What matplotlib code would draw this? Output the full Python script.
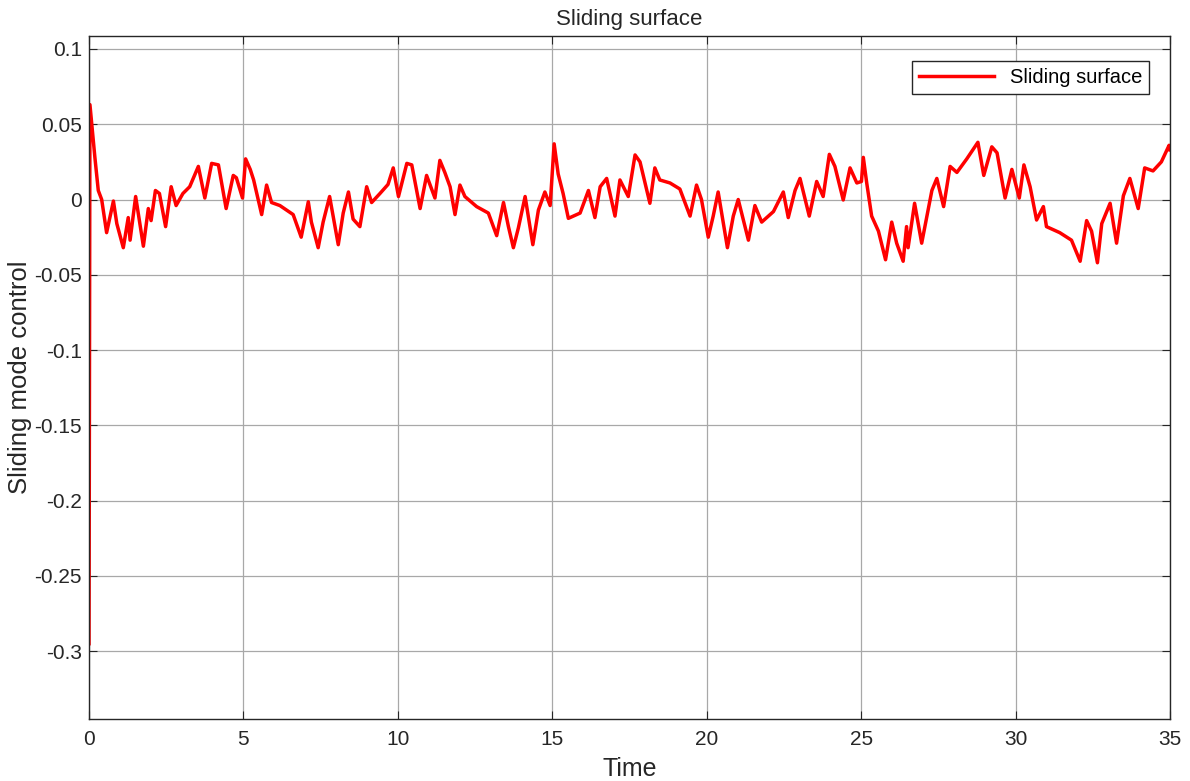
import numpy as np
import matplotlib.pyplot as plt

# sliding surface s(t), read at the turning points of the trace
t = [0.0, 0.03, 0.19, 0.30, 0.41, 0.57, 0.79, 0.90, 1.11, 1.27, 1.33, 1.51,
     1.76, 1.92, 2.01, 2.15, 2.28, 2.48, 2.66, 2.82, 3.04, 3.26, 3.54, 3.75,
     3.97, 4.19, 4.44, 4.67, 4.77, 4.97, 5.07, 5.22, 5.33, 5.59, 5.75, 5.91,
     6.18, 6.61, 6.87, 7.10, 7.20, 7.42, 7.58, 7.79, 8.07, 8.23, 8.40, 8.55,
     8.77, 8.99, 9.15, 9.42, 9.68, 9.85, 10.02, 10.29, 10.45, 10.72, 10.93,
     11.20, 11.36, 11.52, 11.69, 11.85, 12.01, 12.17, 12.55, 12.93, 13.20,
     13.42, 13.58, 13.74, 13.90, 14.12, 14.37, 14.55, 14.76, 14.93, 15.06,
     15.19, 15.35, 15.52, 15.90, 16.17, 16.38, 16.55, 16.76, 17.03, 17.19,
     17.46, 17.68, 17.84, 18.16, 18.32, 18.48, 18.81, 19.13, 19.46, 19.67,
     19.83, 20.05, 20.21, 20.37, 20.67, 20.86, 21.02, 21.35, 21.56, 21.78,
     22.16, 22.48, 22.64, 22.86, 23.02, 23.32, 23.56, 23.77, 23.97, 24.15,
     24.42, 24.64, 24.86, 25.01, 25.07, 25.18, 25.34, 25.56, 25.79, 25.99,
     26.15, 26.36, 26.47, 26.52, 26.73, 26.96, 27.13, 27.29, 27.45, 27.67,
     27.88, 28.10, 28.42, 28.78, 28.97, 29.23, 29.40, 29.66, 29.88, 30.12,
     30.27, 30.47, 30.68, 30.90, 31.00, 31.43, 31.81, 32.09, 32.30, 32.46,
     32.65, 32.79, 33.06, 33.27, 33.49, 33.70, 33.97, 34.18, 34.45, 34.72,
     34.97, 35.0]
s = [-0.295, 0.063, 0.028, 0.006, -0.000, -0.022, -0.001, -0.016, -0.032,
     -0.012, -0.027, 0.002, -0.031, -0.006, -0.014, 0.006, 0.004, -0.018,
     0.0085, -0.004, 0.004, 0.0085, 0.022, 0.001, 0.024, 0.023, -0.006,
     0.016, 0.0145, 0.001, 0.027, 0.020, 0.013, -0.010, 0.0096, -0.002,
     -0.004, -0.010, -0.025, -0.0015, -0.015, -0.032, -0.015, 0.002, -0.030,
     -0.009, 0.005, -0.013, -0.018, 0.0085, -0.002, 0.004, 0.010, 0.021,
     0.002, 0.024, 0.023, -0.006, 0.016, 0.001, 0.026, 0.018, 0.0085,
     -0.010, 0.0096, 0.002, -0.0047, -0.009, -0.024, -0.002, -0.018, -0.032,
     -0.019, 0.002, -0.030, -0.007, 0.005, -0.004, 0.037, 0.017, 0.004,
     -0.0125, -0.009, 0.006, -0.012, 0.0085, 0.014, -0.011, 0.013, 0.002,
     0.0296, 0.025, -0.0025, 0.021, 0.013, 0.011, 0.007, -0.011, 0.0096,
     0.0, -0.025, -0.011, 0.005, -0.032, -0.011, 0.0, -0.027, -0.004,
     -0.015, -0.008, 0.005, -0.012, 0.006, 0.014, -0.011, 0.012, 0.002,
     0.030, 0.022, -0.0003, 0.021, 0.011, 0.012, 0.028, 0.011, -0.011,
     -0.021, -0.040, -0.015, -0.029, -0.041, -0.018, -0.032, -0.0025,
     -0.029, -0.011, 0.006, 0.014, -0.0047, 0.022, 0.018, 0.027, 0.038,
     0.016, 0.035, 0.031, 0.001, 0.020, 0.001, 0.023, 0.0085, -0.0136,
     -0.0047, -0.018, -0.022, -0.027, -0.041, -0.014, -0.021, -0.042,
     -0.016, -0.0025, -0.029, 0.0025, 0.014, -0.006, 0.021, 0.019, 0.025,
     0.036, 0.033]

xticks = [0, 5, 10, 15, 20, 25, 30, 35]
yticks = [0.1, 0.05, 0, -0.05, -0.1, -0.15, -0.2, -0.25, -0.3]
ytick_labels = ['0.1', '0.05', '0', '-0.05', '-0.1', '-0.15', '-0.2', '-0.25', '-0.3']

plt.rcParams['font.family'] = ['Liberation Sans', 'DejaVu Sans']

fig = plt.figure(figsize=(11.9, 7.81), dpi=100)
ax = fig.add_axes([0.0748, 0.0794, 0.9084, 0.8745])

ax.plot(t, s, color='#ff0000', lw=2.5, label='Sliding surface')

ax.set_xlim(0, 35)
ax.set_ylim(-0.345, 0.1086)
ax.set_xticks(xticks)
ax.set_xticklabels([str(v) for v in xticks])
ax.set_yticks(yticks)
ax.set_yticklabels(ytick_labels)

ax.grid(True, color='#a8a8a8', lw=0.9)
ax.tick_params(direction='in', length=6, labelsize=15, colors='#262626',
               top=True, right=True)
ax.tick_params(axis='y', pad=5)
ax.tick_params(axis='x', pad=8)
for sp in ax.spines.values():
    sp.set_color('#262626')
    sp.set_linewidth(1.0)

ax.set_title('Sliding surface', fontsize=16, color='#262626', pad=8)
ax.set_xlabel('Time', fontsize=18, color='#262626', labelpad=6)
ax.set_ylabel('Sliding mode control', fontsize=18.5, color='#262626', labelpad=2)

leg = ax.legend(loc='upper right', bbox_to_anchor=(0.9806, 0.9634),
                borderaxespad=0, fontsize=14.5, fancybox=False,
                framealpha=1, edgecolor='#262626', handlelength=3.7,
                borderpad=0.35)
leg.get_frame().set_linewidth(1.0)

fig.savefig('out.png', dpi=100)
